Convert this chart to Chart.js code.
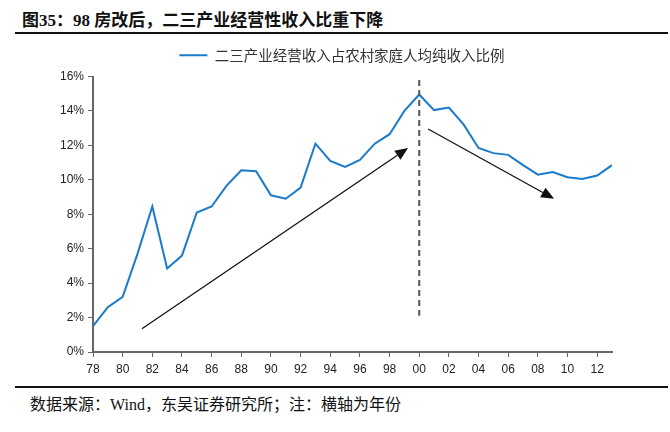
<!DOCTYPE html>
<html>
<head>
<meta charset="utf-8">
<script src="https://cdn.jsdelivr.net/npm/chart.js@4"></script>
<style>
  body { margin: 0; width: 670px; height: 432px; background: #fff; position: relative; overflow: hidden; }
  #title { position: absolute; left: 22px; top: 6px; font: bold 17px "Liberation Serif", "Noto Sans CJK SC"; color: #111; white-space: nowrap; }
  .rule { position: absolute; left: 15px; width: 653px; height: 2px; background: #111; }
  #foot { position: absolute; left: 30px; top: 391px; font: 16px "Liberation Serif", "Noto Sans CJK SC"; color: #111; white-space: nowrap; }
  #box { position: absolute; left: 0; top: 40px; width: 670px; height: 340px; }
</style>
</head>
<body>
<div id="title">图35：98 房改后，二三产业经营性收入比重下降</div>
<div class="rule" style="top:32px"></div>
<div id="box"><canvas id="myChart"></canvas></div>
<div class="rule" style="top:386px"></div>
<div id="foot">数据来源：Wind，东吴证券研究所；注：横轴为年份</div>
<script>
const years = [1978, 1979, 1980, 1981, 1982, 1983, 1984, 1985, 1986, 1987, 1988, 1989,
  1990, 1991, 1992, 1993, 1994, 1995, 1996, 1997, 1998, 1999, 2000, 2001,
  2002, 2003, 2004, 2005, 2006, 2007, 2008, 2009, 2010, 2011, 2012, 2013];
const share = [1.5, 2.6, 3.2, 5.7, 8.45, 4.85, 5.6, 8.1, 8.45, 9.65, 10.55, 10.5,
  9.1, 8.9, 9.55, 12.1, 11.1, 10.75, 11.15, 12.1, 12.65, 14.0, 14.95, 14.05,
  14.2, 13.2, 11.85, 11.55, 11.45, 10.85, 10.3, 10.45, 10.15, 10.05, 10.25, 10.85];
const seriesName = "二三产业经营收入占农村家庭人均纯收入比例";

// annotation points, in data units (year, %)
const arrowUp = [[1981.3, 1.35], [1999.25, 11.85]];
const arrowDown = [[2000.6, 12.95], [2009.1, 8.9]];
const dashLine = [[2000, 15.8], [2000, 2.1]];

const blue = "#1a7acb";

const annot = {
  id: "annot",
  afterLayout(chart) {
    // centre the legend on the page rather than on the padded box
    const lg = chart.legend;
    lg.left += 36; lg.right += 36;
    lg.top -= 4; lg.bottom -= 4;
  },
  afterDatasetsDraw(chart) {
    const { ctx, scales: { x, y } } = chart;
    const px = (p) => [x.getPixelForValue(p[0]), y.getPixelForValue(p[1])];
    ctx.save();
    // dashed divider
    let a = px(dashLine[0]), b = px(dashLine[1]);
    ctx.strokeStyle = "#555";
    ctx.lineWidth = 2;
    ctx.setLineDash([6, 4]);
    ctx.beginPath(); ctx.moveTo(a[0], a[1]); ctx.lineTo(b[0], b[1]); ctx.stroke();
    ctx.setLineDash([]);
    // arrows
    [arrowUp, arrowDown].forEach((ar) => {
      const s = px(ar[0]), e = px(ar[1]);
      const ang = Math.atan2(e[1] - s[1], e[0] - s[0]);
      const len = 13, w = 5.5;
      const bx = e[0] - len * Math.cos(ang), by = e[1] - len * Math.sin(ang);
      ctx.strokeStyle = "#111";
      ctx.fillStyle = "#111";
      ctx.lineWidth = 1.3;
      ctx.beginPath(); ctx.moveTo(s[0], s[1]); ctx.lineTo(bx, by); ctx.stroke();
      ctx.beginPath();
      ctx.moveTo(e[0], e[1]);
      ctx.lineTo(bx + w * Math.sin(ang), by - w * Math.cos(ang));
      ctx.lineTo(bx - w * Math.sin(ang), by + w * Math.cos(ang));
      ctx.closePath(); ctx.fill();
    });
    ctx.restore();
  },
};

new Chart(document.getElementById("myChart"), {
  type: "line",
  data: {
    datasets: [{
      label: seriesName,
      data: years.map((yr, i) => ({ x: yr, y: share[i] })),
      borderColor: blue,
      backgroundColor: blue,
      borderWidth: 2,
      pointRadius: 0,
      tension: 0,
    }],
  },
  options: {
    responsive: true,
    maintainAspectRatio: false,
    animation: false,
    layout: { padding: { left: 0, right: 58, top: 2, bottom: 0 } },
    plugins: {
      legend: {
        labels: {
          boxWidth: 28,
          boxHeight: 0,
          color: "#333",
          padding: 10,
          font: { family: "'Noto Sans CJK SC'", size: 14.5 },
        },
      },
      tooltip: { enabled: false },
    },
    scales: {
      x: {
        type: "linear",
        min: 1978,
        max: 2013,
        afterFit: (s) => { s.height = 28; },
        grid: { drawOnChartArea: false, color: "#666", tickLength: 5 },
        border: { color: "#666", width: 2 },
        ticks: {
          stepSize: 2,
          includeBounds: false,
          padding: 5,
          color: "#222",
          font: { family: "'Liberation Sans'", size: 12 },
          callback: (v) => String(v % 100).padStart(2, "0"),
        },
      },
      y: {
        min: 0,
        max: 16,
        afterFit: (s) => { s.width = 93; },
        grid: { drawOnChartArea: false, color: "#666", tickLength: 5 },
        border: { color: "#666", width: 2 },
        ticks: {
          stepSize: 2,
          padding: 4,
          color: "#222",
          font: { family: "'Liberation Sans'", size: 12 },
          callback: (v) => v + "%",
        },
      },
    },
  },
  plugins: [annot],
});
</script>
</body>
</html>
